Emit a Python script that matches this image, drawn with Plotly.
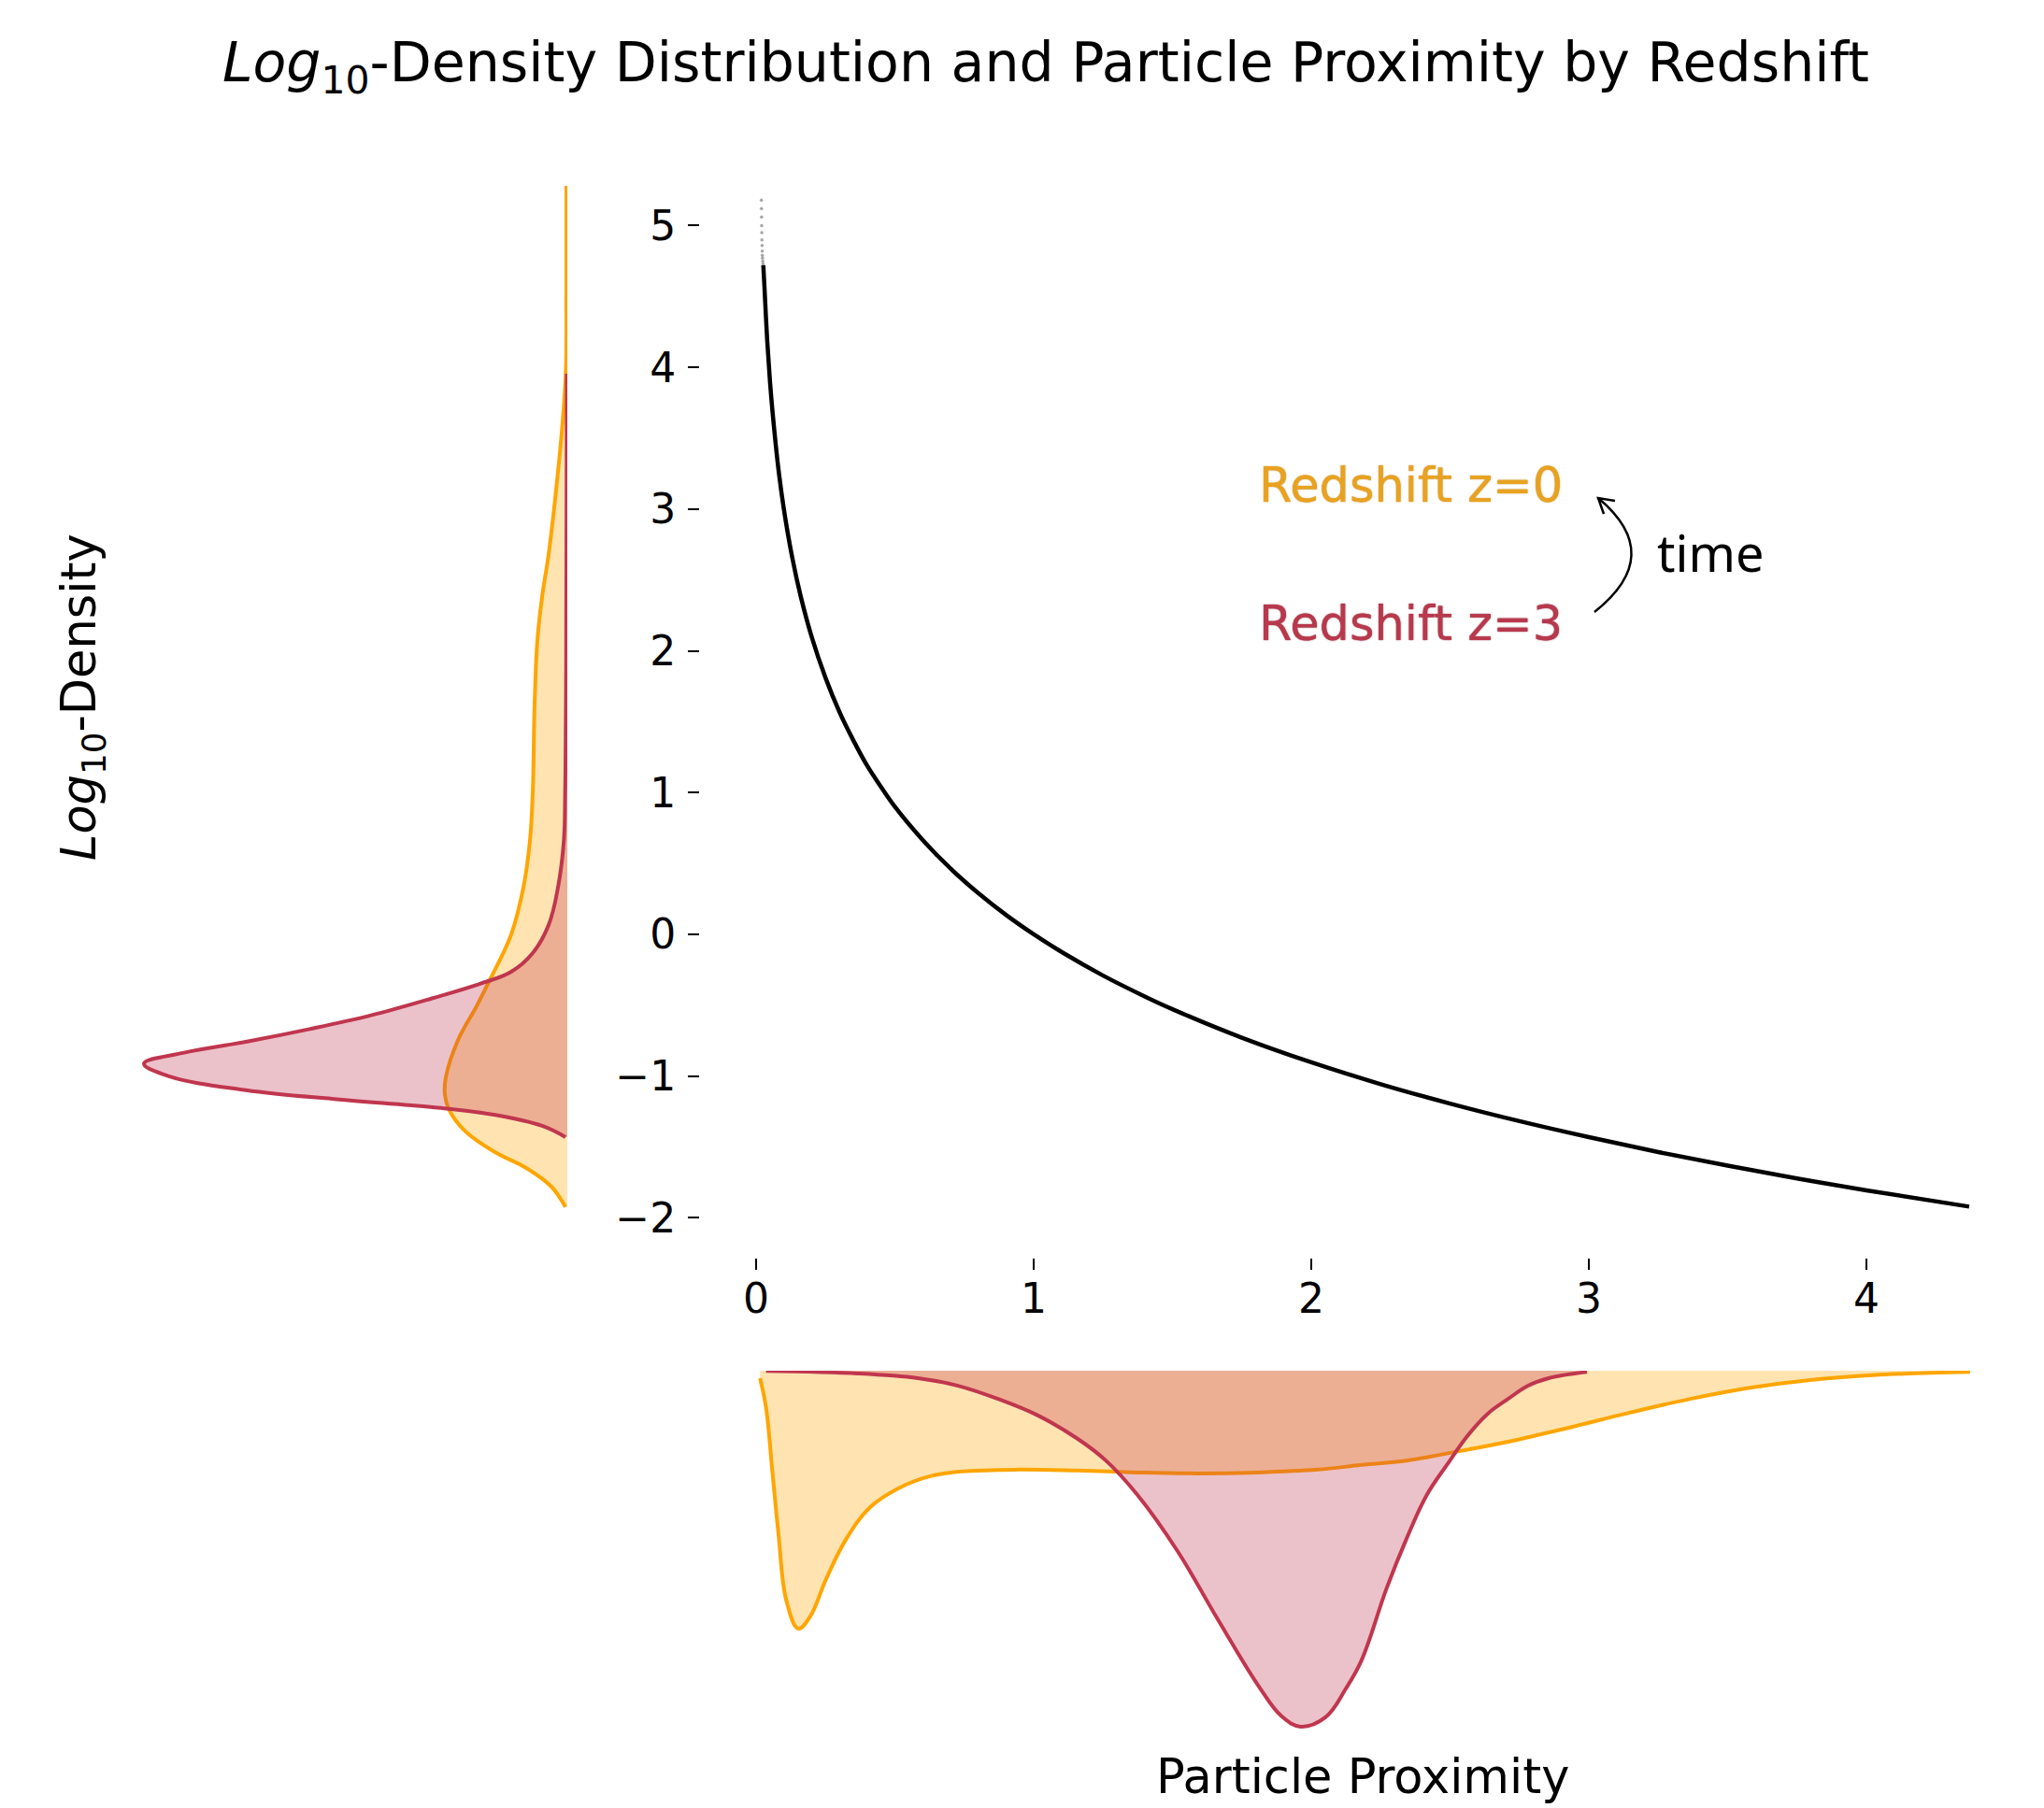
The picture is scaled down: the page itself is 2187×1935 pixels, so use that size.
import plotly.graph_objects as go

W, H = 2187, 1935
FONT = "DejaVu Sans"

# ---------------- data ----------------
# main curve: particle proximity vs log10 density
prox = [0.026, 0.03, 0.04, 0.05, 0.06, 0.08, 0.10, 0.13, 0.16, 0.20, 0.25, 0.30, 0.35, 0.40, 0.45,
        0.50, 0.60, 0.70, 0.80, 0.90, 1.00, 1.10, 1.25, 1.40, 1.50, 1.75, 2.00, 2.25, 2.50, 2.75,
        3.00, 3.25, 3.50, 3.75, 4.00, 4.37]
logd = [4.72, 4.57, 4.19, 3.90, 3.67, 3.29, 3.00, 2.66, 2.39, 2.10, 1.81, 1.57, 1.37, 1.19, 1.04,
        0.90, 0.666, 0.465, 0.291, 0.137, 0.000, -0.124, -0.291, -0.438, -0.528, -0.729, -0.903,
        -1.057, -1.194, -1.318, -1.431, -1.536, -1.632, -1.722, -1.806, -1.921]
# sparse particles at the dense end
tail_x = [0.019, 0.0193, 0.0197, 0.020, 0.0205, 0.021, 0.0215, 0.022, 0.0225, 0.023, 0.024, 0.025]
tail_y = [5.18, 5.12, 5.06, 5.00, 4.95, 4.90, 4.86, 4.82, 4.79, 4.77, 4.75, 4.73]

# left marginal KDE of log10 density
kde_y_z0 = [5.28, 4.5, 3.98, 3.59, 3.135, 2.68, 2.38, 2.076, 1.62, 1.0, 0.66, 0.33, 0.0,
            -0.31, -0.506, -0.747, -1.01, -1.13, -1.23, -1.384, -1.538, -1.648, -1.78, -1.923]
kde_d_z0 = [0.0025, 0.0025, 0.0038, 0.0133, 0.030, 0.050, 0.0675, 0.080, 0.0875, 0.0925, 0.100,
            0.1175, 0.150, 0.205, 0.2425, 0.2925, 0.325, 0.3275, 0.3175, 0.275, 0.1925, 0.110, 0.0425, 0.005]
kde_y_z3 = [3.955, 3.0, 2.0, 1.5, 1.0, 0.659, 0.33, 0.066, -0.132, -0.264, -0.35, -0.45, -0.571,
            -0.67, -0.758, -0.835, -0.912, -1.0, -1.099, -1.165, -1.22, -1.274, -1.351, -1.43]
kde_d_z3 = [0.0013, 0.002, 0.003, 0.004, 0.0058, 0.0093, 0.025, 0.050, 0.0925, 0.150, 0.235, 0.360,
            0.525, 0.6925, 0.860, 1.025, 1.1325, 1.0675, 0.860, 0.610, 0.360, 0.1925, 0.0675, 0.005]

# bottom marginal KDE of particle proximity
kde_x_z0 = [0.014, 0.036, 0.058, 0.080, 0.109, 0.152, 0.195, 0.252, 0.325, 0.411, 0.512, 0.627,
            0.741, 0.943, 1.158, 1.374, 1.590, 1.807, 2.023, 2.181, 2.343, 2.533, 2.709, 2.928,
            3.147, 3.366, 3.585, 3.804, 4.023, 4.373]
kde_p_z0 = [0.024, 0.119, 0.316, 0.516, 0.734, 0.824, 0.785, 0.666, 0.537, 0.436, 0.376, 0.337,
            0.322, 0.316, 0.319, 0.325, 0.328, 0.325, 0.316, 0.301, 0.287, 0.257, 0.227, 0.182,
            0.134, 0.090, 0.054, 0.029, 0.014, 0.004]
kde_x_z3 = [0.036, 0.368, 0.583, 0.727, 0.871, 1.015, 1.159, 1.26, 1.374, 1.518, 1.663, 1.807,
            1.893, 1.962, 2.051, 2.125, 2.181, 2.271, 2.343, 2.416, 2.49, 2.562, 2.636, 2.709,
            2.781, 2.855, 2.993]
kde_p_z3 = [0.001, 0.009, 0.024, 0.048, 0.090, 0.143, 0.218, 0.287, 0.397, 0.576, 0.794, 1.003,
            1.104, 1.137, 1.107, 1.015, 0.925, 0.696, 0.537, 0.397, 0.299, 0.209, 0.137, 0.090,
            0.048, 0.024, 0.004]

x_ticks = [0, 1, 2, 3, 4]
y_ticks = [-2, -1, 0, 1, 2, 3, 4, 5]

ORANGE = "#FFA500"
ORANGE_FILL = "rgba(255,165,0,0.30)"
RED = "#C0364E"
RED_FILL = "rgba(192,54,78,0.30)"
SMOOTH = 1.1
LW = 4


def fx(p):
    return p / W


def fy(p):
    return 1 - p / H


fig = go.Figure()

# main
fig.add_trace(go.Scatter(x=prox, y=logd, mode="lines",
                         line=dict(color="black", width=4.5, shape="spline", smoothing=1.0),
                         xaxis="x", yaxis="y", showlegend=False, hoverinfo="skip"))
fig.add_trace(go.Scatter(x=tail_x, y=tail_y, mode="markers",
                         marker=dict(color="rgba(0,0,0,0.35)", size=3.5),
                         xaxis="x", yaxis="y", showlegend=False, hoverinfo="skip"))

# left marginal
fig.add_trace(go.Scatter(x=kde_d_z0, y=kde_y_z0, mode="lines", fill="tozerox", fillcolor=ORANGE_FILL,
                         line=dict(color=ORANGE, width=LW, shape="spline", smoothing=SMOOTH),
                         xaxis="x2", yaxis="y2", showlegend=False))
fig.add_trace(go.Scatter(x=kde_d_z3, y=kde_y_z3, mode="lines", fill="tozerox", fillcolor=RED_FILL,
                         line=dict(color=RED, width=LW, shape="spline", smoothing=SMOOTH),
                         xaxis="x2", yaxis="y2", showlegend=False))

# bottom marginal
fig.add_trace(go.Scatter(x=kde_x_z0, y=kde_p_z0, mode="lines", fill="tozeroy", fillcolor=ORANGE_FILL,
                         line=dict(color=ORANGE, width=LW, shape="spline", smoothing=SMOOTH),
                         xaxis="x3", yaxis="y3", showlegend=False))
fig.add_trace(go.Scatter(x=kde_x_z3, y=kde_p_z3, mode="lines", fill="tozeroy", fillcolor=RED_FILL,
                         line=dict(color=RED, width=LW, shape="spline", smoothing=SMOOTH),
                         xaxis="x3", yaxis="y3", showlegend=False))

main_x_dom = [fx(749), fx(2172)]
main_y_dom = [fy(1346), fy(143)]
tickfont = dict(family=FONT, size=44, color="black")

fig.update_layout(
    width=W, height=H, margin=dict(l=0, r=0, t=0, b=0),
    paper_bgcolor="white", plot_bgcolor="rgba(0,0,0,0)",
    xaxis=dict(domain=main_x_dom, range=[-0.202, 4.589], tickvals=x_ticks, ticks="outside",
               ticklen=12, tickwidth=2, tickcolor="black", showline=False, showgrid=False,
               zeroline=False, tickfont=tickfont, anchor="y", ticklabelstandoff=-7),
    yaxis=dict(domain=main_y_dom, range=[-2.281, 5.649], tickvals=y_ticks, ticks="outside",
               ticklen=12, tickwidth=2, tickcolor="black", showline=False, showgrid=False,
               zeroline=False, tickfont=tickfont, anchor="x", ticklabelstandoff=4),
    xaxis2=dict(domain=[fx(100), fx(607)], range=[1.2675, 0], visible=False, anchor="y2"),
    yaxis2=dict(domain=main_y_dom, range=[-2.281, 5.649], visible=False, anchor="x2"),
    xaxis3=dict(domain=main_x_dom, range=[-0.202, 4.589], visible=False, anchor="y3"),
    yaxis3=dict(domain=[fy(1880), fy(1467)], range=[1.2328, 0], visible=False, anchor="x3"),
    title=dict(text="<i>Log</i><sub>10</sub>-Density Distribution and Particle Proximity by Redshift",
               x=fx(1119), xanchor="center", y=fy(67), yanchor="middle",
               font=dict(family=FONT, size=58.5, color="black")),
)

annotations = [
    dict(text="<i>Log</i><sub>10</sub>-Density", x=fx(88), y=fy(746), textangle=-90,
         font=dict(family=FONT, size=51, color="black")),
    dict(text="Particle Proximity", x=fx(1458), y=fy(1901),
         font=dict(family=FONT, size=51, color="black")),
    dict(text="Redshift z=0", x=fx(1674), y=fy(519), xanchor="right",
         font=dict(family=FONT, size=51, color="#E9A220", shadow="0px 0px 1.5px #B8801A")),
    dict(text="Redshift z=3", x=fx(1674), y=fy(667), xanchor="right",
         font=dict(family=FONT, size=51, color="#B8384C", shadow="0px 0px 1.5px #8A2838")),
    dict(text="time", x=fx(1771), y=fy(591), xanchor="left",
         font=dict(family="Noto Sans", size=54, color="black")),
]
for a in annotations:
    a.update(xref="paper", yref="paper", showarrow=False)
    a.setdefault("xanchor", "center")
    a.setdefault("yanchor", "middle")
fig.update_layout(annotations=annotations)

# curved "time" arrow (decoration)
p0, c, p1 = (1706, 655), (1783, 594), (1710, 533)
arc = f"M {fx(p0[0])},{fy(p0[1])} Q {fx(c[0])},{fy(c[1])} {fx(p1[0])},{fy(p1[1])}"
head_a, head_b = (1716, 550), (1728, 536)
head = (f"M {fx(head_a[0])},{fy(head_a[1])} L {fx(p1[0])},{fy(p1[1])} "
        f"L {fx(head_b[0])},{fy(head_b[1])}")
fig.update_layout(shapes=[
    dict(type="path", path=arc, xref="paper", yref="paper", line=dict(color="black", width=2.5)),
    dict(type="path", path=head, xref="paper", yref="paper", line=dict(color="black", width=2.5)),
])

fig.write_html("out.html", config={"displayModeBar": False},
               post_script="document.body.style.margin='0';")
